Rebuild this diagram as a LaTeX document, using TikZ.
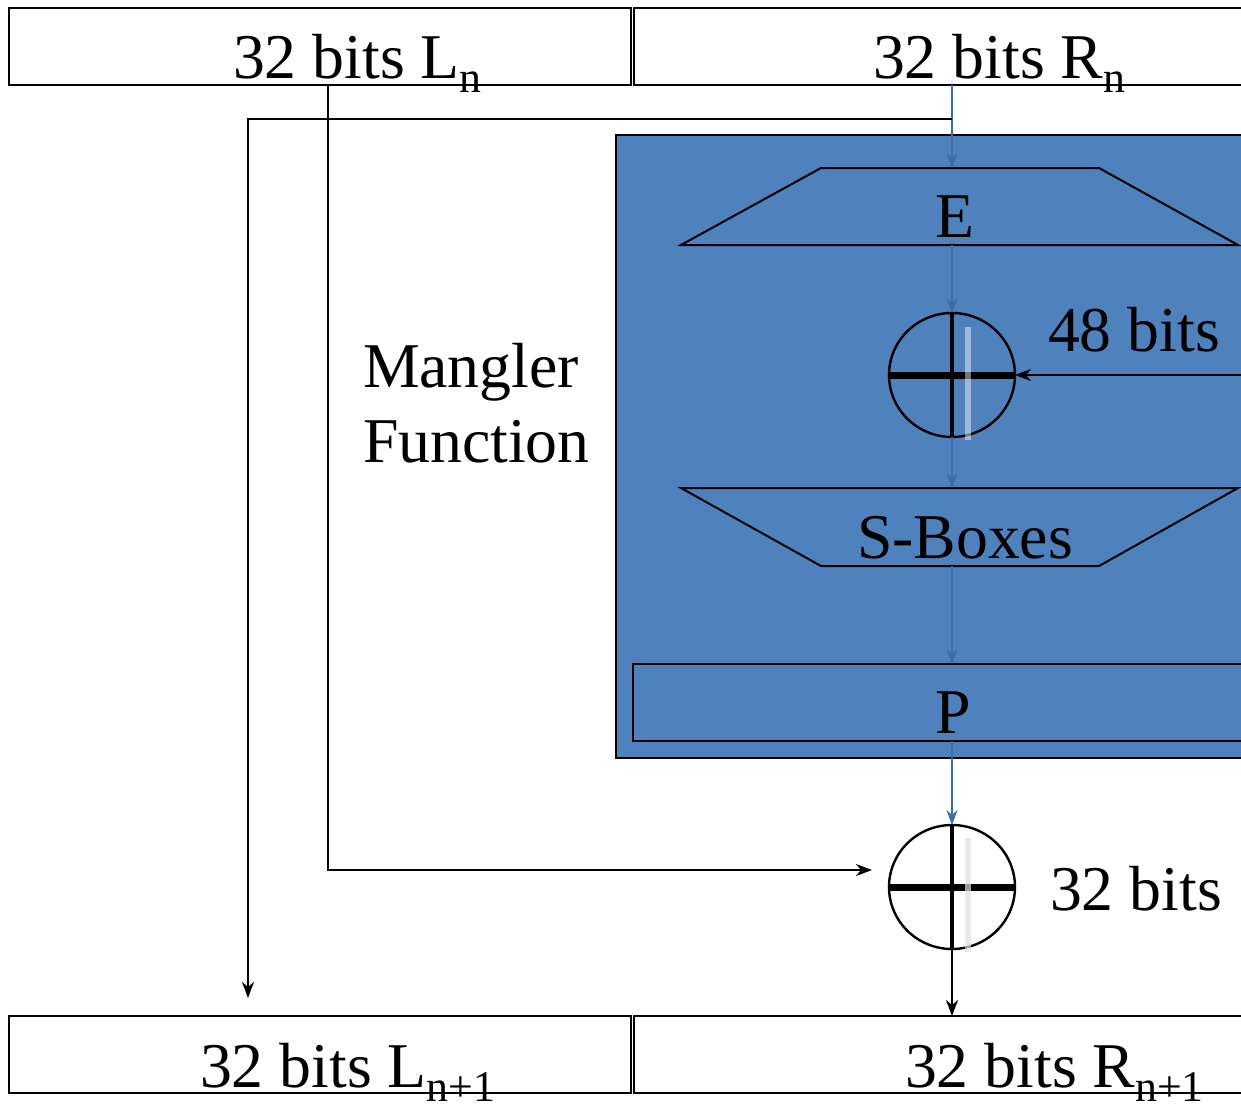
\documentclass[tikz,border=0pt]{standalone}
\usepackage{fontspec}
\setmainfont{Liberation Serif}
\usetikzlibrary{arrows.meta,shapes.geometric}
\definecolor{manglerblue}{HTML}{4F81BD}
\definecolor{flowblue}{HTML}{3A6EA8}
% lowered subscript used in the register labels
\newcommand\lowsub[1]{\raisebox{-14bp}{\fontsize{44}{44}\selectfont #1}}

\begin{document}
\begin{tikzpicture}[x=1bp,y=-1bp,
  wordbox/.style={draw, line width=2.4bp, minimum height=77bp, inner sep=0pt, outer sep=0pt},
  stage/.style={draw, fill=manglerblue, line width=2bp, inner sep=0pt, outer sep=0pt},
  shapebox/.style={inner sep=0pt, outer sep=0pt, minimum width=557bp},
  lbl/.style={font=\fontsize{64}{64}\selectfont, inner sep=0pt, outer sep=0pt},
  xorop/.style={draw, ellipse, line width=2.4bp, minimum width=126bp, minimum height=124bp, inner sep=0pt, outer sep=0pt},
  flow/.style={draw=flowblue, line width=1.8bp, -{Stealth[length=15bp,width=11bp,inset=5bp]}},
  link/.style={draw=black, line width=2bp, -{Stealth[length=16bp,width=12bp,inset=5bp]}},
]
\useasboundingbox (0,0) rectangle (1241,1104);
\clip (0,0) rectangle (1241,1104);

% mangler function block
\node[stage, minimum width=654bp, minimum height=623bp] (mangler) at (943,446.5) {};

% expansion E
\node[shapebox, minimum height=77bp] (E) at (959.5,206.5) {};
\draw[fill=manglerblue, line width=2bp]
  (E.south west) -- (E.south east) -- ([xshift=-139bp]E.north east)
  -- ([xshift=140bp]E.north west) -- cycle;
\node[lbl, anchor=base] (Elbl) at (955,237) {E};

% S-boxes
\node[shapebox, minimum height=78bp] (S) at (959.5,527) {};
\draw[fill=manglerblue, line width=2bp]
  (S.north west) -- (S.north east) -- ([xshift=-139bp]S.south east)
  -- ([xshift=140bp]S.south west) -- cycle;
\node[lbl, anchor=base west] (Slbl) at (857,558) {S-Boxes};

% permutation P
\node[stage, minimum width=637bp, minimum height=77bp] (P) at (951.5,702.5) {};
\node[lbl, anchor=base] (Plbl) at (953,733) {P};

% registers
\node[wordbox, minimum width=622bp] (Ln) at (320,46.5) {};
\node[wordbox, minimum width=636bp] (Rn) at (952,46.5) {};
\node[wordbox, minimum width=622bp] (Ln1) at (320,1054.5) {};
\node[wordbox, minimum width=636bp] (Rn1) at (952,1054.5) {};
\node[lbl, anchor=base west] (LnLbl) at (233,78) {32 bits L\lowsub{n}};
\node[lbl, anchor=base west] (RnLbl) at (873,78) {32 bits R\lowsub{n}};
\node[lbl, anchor=base west] (Ln1Lbl) at (200,1087) {32 bits L\lowsub{n+1}};
\node[lbl, anchor=base west] (Rn1Lbl) at (905,1087) {32 bits R\lowsub{n+1}};

% XOR operators
\node[xorop] (X1) at (952,375) {};
\node[xorop] (X2) at (952,887) {};

% labels
\node[lbl, anchor=base west] (mang1) at (363,387) {Mangler};
\node[lbl, anchor=base west] (mang2) at (363,462) {Function};
\node[lbl, anchor=base west] (keylbl) at (1048,351) {48 bits};
\node[lbl, anchor=base west] (outlbl) at (1050,910) {32 bits};

% helper points
\coordinate (axis) at (952,0);
\coordinate (split) at (952,119);
\coordinate (leftcol) at (248,119);
\coordinate (Ldrop) at (248,998);
\coordinate (Ltap) at (328,85);
\coordinate (X2in) at (872,870);
\coordinate (keyin) at (1260,375);

% data path through the mangler
\draw[flow] (Rn.south -| axis) -- (E.north -| axis);
\draw[flow] (E.south -| axis) -- (X1.north);
\draw[flow] (X1.south) -- (S.north -| axis);
\draw[flow] (S.south -| axis) -- (P.north -| axis);
\draw[flow] (P.south -| axis) -- (X2.north);

% crossing paths
\draw[link] (split) -- (leftcol) -- (Ldrop);
\draw[link] (Ltap) |- (X2in);
\draw[link] (keyin) -- (X1.east);
\draw[link] (X2.south) -- (Rn1.north -| axis);

% XOR crosses
\foreach \x in {X1,X2} {
  \draw[line width=7bp] (\x.west) -- (\x.east);
  \draw[line width=3.4bp] (\x.north) -- (\x.south);
}
\fill[white, opacity=0.45] (965,327) rectangle (971,440);
\fill[black!12, opacity=0.7] (965,838) rectangle (971,952);
\end{tikzpicture}
\end{document}
